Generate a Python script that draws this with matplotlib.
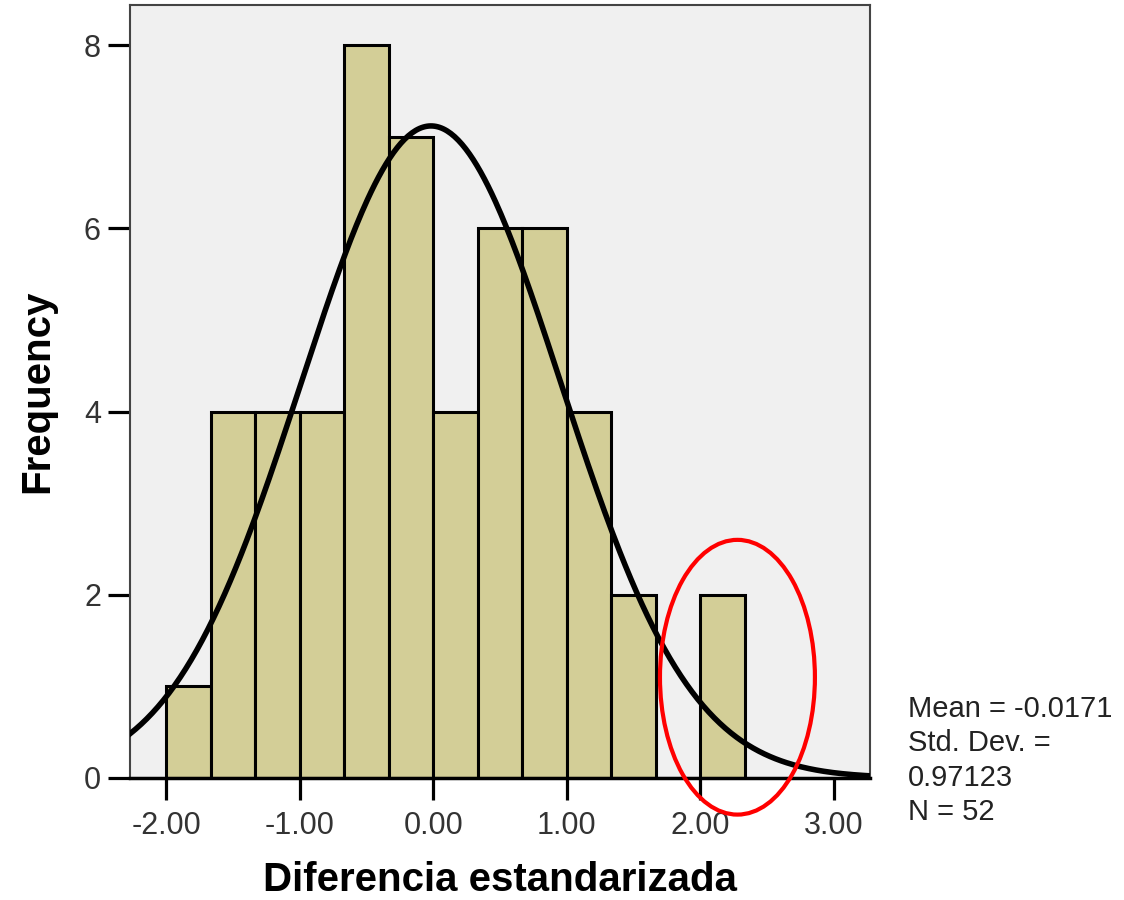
import numpy as np
import matplotlib.pyplot as plt
from matplotlib.patches import Ellipse

plt.rcParams['font.family'] = ['Liberation Sans', 'DejaVu Sans']

# histogram bins (width 1/3) and counts
bin_edges = [-2.0, -5/3, -4/3, -1.0, -2/3, -1/3, 0.0, 1/3, 2/3, 1.0, 4/3, 5/3, 2.0, 7/3]
counts = [1, 4, 4, 4, 8, 7, 4, 6, 6, 4, 2, 0, 2]
mean = -0.0171
std = 0.97123
n = 52

fig = plt.figure(figsize=(11.24, 9), dpi=100)
ax = fig.add_axes([0.1157, 0.1356, 0.6584, 0.8588])
ax.set_facecolor('#f0f0f0')

lefts = bin_edges[:-1]
widths = np.diff(bin_edges)
ax.bar(lefts, counts, width=widths, align='edge', color='#d3ce97',
       edgecolor='black', linewidth=2.2, zorder=2)

# normal curve scaled to counts
bw = widths[0]
xs = np.linspace(-2.27, 3.27, 400)
ys = n * bw * np.exp(-0.5 * ((xs - mean) / std) ** 2) / (std * np.sqrt(2 * np.pi))
ax.plot(xs, ys, color='black', linewidth=4, zorder=3)

ax.set_xlim(-2.27, 3.27)
ax.set_ylim(0, 8.44)
ax.set_xticks([-2, -1, 0, 1, 2, 3])
ax.set_xticklabels(['-2.00', '-1.00', '0.00', '1.00', '2.00', '3.00'])
ax.set_yticks([0, 2, 4, 6, 8])
ax.tick_params(direction='out', length=16, width=2.3, labelsize=22,
               labelcolor='#333333', pad=5)
ax.tick_params(axis='x', pad=8)

for s in ['top', 'right', 'left']:
    ax.spines[s].set_color('#444444')
    ax.spines[s].set_linewidth(1.5)
ax.spines['bottom'].set_color('black')
ax.spines['bottom'].set_linewidth(2.5)

ax.set_xlabel('Diferencia estandarizada', fontsize=29, fontweight='bold', labelpad=14)
ax.set_ylabel('Frequency', fontsize=29, fontweight='bold', labelpad=20)

# highlight outlier bins
ell = Ellipse((2.277, 1.10), 1.16, 3.0, fill=False, edgecolor='red',
              linewidth=3, clip_on=False, zorder=4)
ax.add_patch(ell)

fig.text(0.808, 0.155, 'Mean = -0.0171\nStd. Dev. =\n0.97123\nN = 52',
         fontsize=21, color='#222222', va='center', ha='left', linespacing=1.3)

fig.savefig('out.png', dpi=100)
